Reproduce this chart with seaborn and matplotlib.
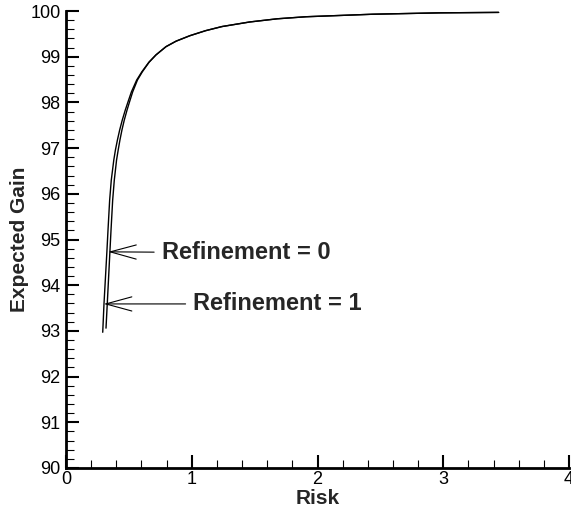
import numpy as np
import pandas as pd
import matplotlib
matplotlib.use("Agg")
import matplotlib.pyplot as plt
from matplotlib.ticker import MultipleLocator
import seaborn as sns

# ── data ──
# Refinement = 0 (right-hand line near the bottom)
gain_ref0 = [93.06, 93.59, 94.73, 95.21, 95.86, 96.30, 96.74, 96.96, 97.18, 97.40,
             97.61, 97.83, 98.02, 98.23, 98.49, 98.67, 98.88, 99.04, 99.22, 99.34,
             99.46, 99.57, 99.66, 99.76, 99.83, 99.875, 99.93, 99.96, 99.97]
risk_ref0 = [0.318, 0.328, 0.349, 0.358, 0.371, 0.384, 0.402, 0.415, 0.429, 0.445,
             0.463, 0.485, 0.506, 0.530, 0.568, 0.607, 0.661, 0.716, 0.795, 0.875,
             0.985, 1.11, 1.24, 1.46, 1.68, 1.91, 2.44, 2.97, 3.44]

# Refinement = 1 (left-hand line near the bottom)
gain_ref1 = [92.97, 93.59, 94.73, 95.21, 95.86, 96.30, 96.74, 96.96, 97.18, 97.40,
             97.61, 97.83, 98.02, 98.23, 98.49, 98.67, 98.88, 99.04, 99.22, 99.34,
             99.46, 99.57, 99.66, 99.76, 99.83, 99.875, 99.93, 99.96, 99.97]
risk_ref1 = [0.292, 0.302, 0.325, 0.334, 0.347, 0.360, 0.380, 0.393, 0.409, 0.427,
             0.447, 0.471, 0.494, 0.520, 0.562, 0.603, 0.659, 0.715, 0.795, 0.875,
             0.985, 1.11, 1.24, 1.46, 1.68, 1.91, 2.44, 2.97, 3.44]

labels = ["Refinement = 0", "Refinement = 1"]
arrow_tips = [(0.335, 94.73), (0.300, 93.59)]
label_pos = [(0.76, 94.71), (1.01, 93.59)]

# ── setup ──
sns.set_style("ticks")
plt.rcParams['font.family'] = ['Liberation Sans', 'DejaVu Sans']

df = pd.concat([
    pd.DataFrame({'risk': risk_ref0, 'gain': gain_ref0, 'ref': labels[0]}),
    pd.DataFrame({'risk': risk_ref1, 'gain': gain_ref1, 'ref': labels[1]}),
])

fig = plt.figure(figsize=(5.71, 5.15), dpi=100)
ax = fig.add_axes([0.1156, 0.0913, 0.881, 0.8873])

sns.lineplot(data=df, x='risk', y='gain', units='ref', estimator=None,
             sort=False, color='black', linewidth=1.0, ax=ax, legend=False)

for text, tip, pos in zip(labels, arrow_tips, label_pos):
    ax.annotate(text, xy=tip, xytext=pos, ha='left', va='center',
                fontsize=17, fontweight='bold',
                arrowprops=dict(arrowstyle='->,head_length=1.1,head_width=0.3',
                                color='black', lw=0.8, shrinkA=3, shrinkB=0))

ax.set_xlim(0, 4)
ax.set_ylim(90, 100)
ax.xaxis.set_major_locator(MultipleLocator(1))
ax.xaxis.set_minor_locator(MultipleLocator(0.2))
ax.yaxis.set_major_locator(MultipleLocator(1))
ax.yaxis.set_minor_locator(MultipleLocator(0.2))

sns.despine(ax=ax)
for side in ['left', 'bottom']:
    ax.spines[side].set_linewidth(2)
    ax.spines[side].set_color('black')

ax.tick_params(which='major', direction='in', length=9.5, width=1.5,
               labelsize=13, colors='black')
ax.tick_params(which='minor', direction='in', length=6, width=0.8, colors='black')
ax.tick_params(axis='x', which='major', pad=2)
ax.tick_params(axis='y', which='major', pad=4)

ax.set_xlabel("Risk", fontsize=15, fontweight='bold', labelpad=1)
ax.set_ylabel("Expected Gain", fontsize=15, fontweight='bold', labelpad=1)

plt.savefig("out.png", dpi=100)
plt.close()
